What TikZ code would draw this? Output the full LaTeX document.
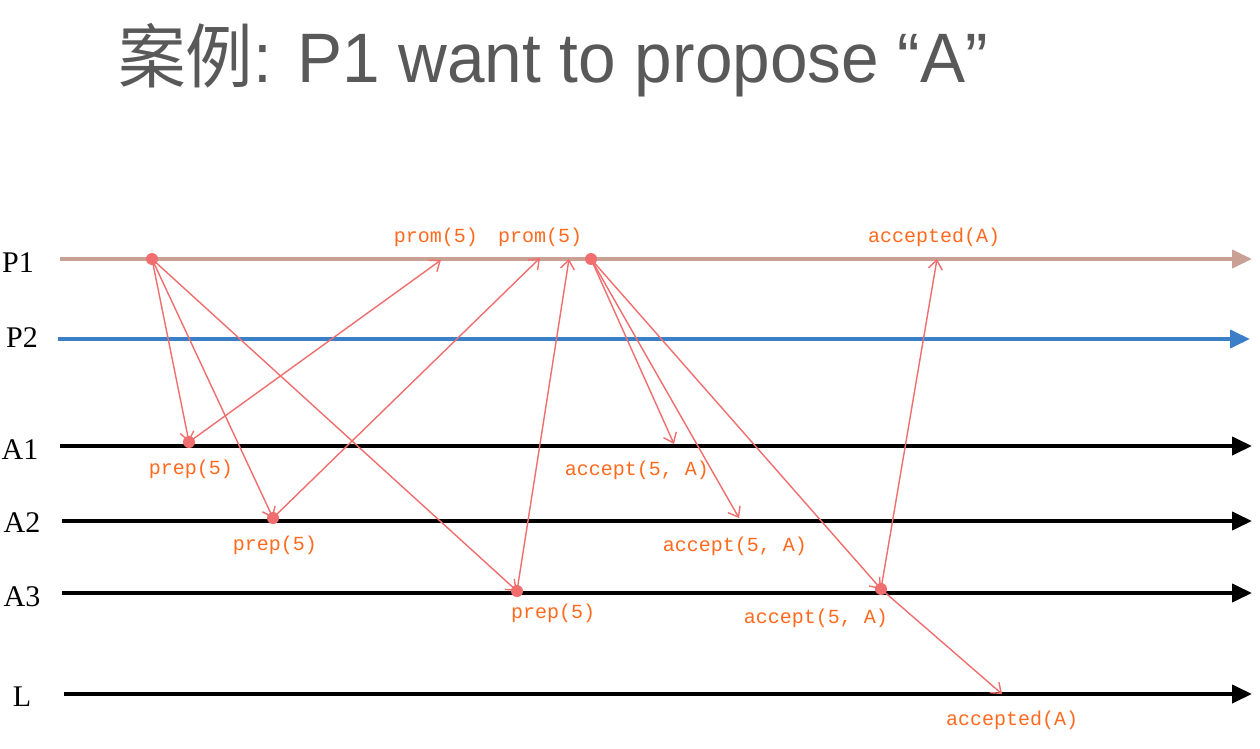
\documentclass[tikz,border=0pt]{standalone}
\usepackage{fontspec}
\setmainfont{Liberation Serif}
\setmonofont{Liberation Mono}
\newfontfamily\titlefont{Liberation Sans}
\newfontfamily\cjkfont{Noto Sans CJK SC}
\usetikzlibrary{arrows.meta}

\definecolor{ponecol}{RGB}{201,160,148}
\definecolor{ptwocol}{RGB}{58,127,200}
\definecolor{msgcol}{RGB}{240,110,110}
\definecolor{lblcol}{RGB}{255,106,30}
\definecolor{titlecol}{RGB}{89,89,89}

\tikzstyle{lane}=[line width=4pt,-{Triangle[length=20pt,width=18pt]}]
\tikzstyle{msg}=[line width=1.4pt,msgcol,-{Straight Barb[length=9pt,width=14pt]}]
\tikzstyle{evt}=[circle,fill=msgcol,inner sep=0pt,minimum size=12pt]
\tikzstyle{lbl}=[text=lblcol,inner sep=0pt,font=\ttfamily\fontsize{20}{20}\selectfont]
\tikzstyle{proc}=[inner sep=0pt,font=\fontsize{30}{30}\selectfont]

\begin{document}
\begin{tikzpicture}[x=1pt,y=-1pt]
	\useasboundingbox[fill=white] (0,0) rectangle (1260,749);

	% title
	\node[anchor=base west,inner sep=0pt,text=titlecol,xscale=0.965,transform shape,
		font=\fontsize{70}{70}\selectfont] (title) at (118,83)
		{{\cjkfont 案例}{\titlefont: P1 want to propose “A”}};

	% lanes
	\def\xS{60}
	\def\xE{1252}
	\coordinate (P1s) at (\xS,259);  \coordinate (P1e) at (\xE,259);
	\coordinate (P2s) at (58,339);   \coordinate (P2e) at (1250,339);
	\coordinate (A1s) at (\xS,446);  \coordinate (A1e) at (\xE,446);
	\coordinate (A2s) at (62,521);   \coordinate (A2e) at (\xE,521);
	\coordinate (A3s) at (62,593);   \coordinate (A3e) at (\xE,593);
	\coordinate (Ls)  at (64,694);   \coordinate (Le)  at (\xE,694);

	\draw[lane, ponecol] (P1s) -- (P1e);
	\draw[lane, ptwocol] (P2s) -- (P2e);
	\draw[lane, black] (A1s) -- (A1e);
	\draw[lane, black] (A2s) -- (A2e);
	\draw[lane, black] (A3s) -- (A3e);
	\draw[lane, black] (Ls) -- (Le);

	\node[proc] (nP1) at (18,263) {P1};
	\node[proc] (nP2) at (22,338) {P2};
	\node[proc] (nA1) at (20,450) {A1};
	\node[proc] (nA2) at (22,523) {A2};
	\node[proc] (nA3) at (22,597) {A3};
	\node[proc] (nL)  at (22,697) {L};

	% events
	\coordinate (propose) at (152,259);
	\coordinate (prepA) at (189,442);
	\coordinate (prepB) at (273,518);
	\coordinate (prepC) at (517,591);
	\coordinate (promA) at (441,260);
	\coordinate (promB) at (540,258);
	\coordinate (promC) at (569,259);
	\coordinate (acc) at (591,259);
	\coordinate (accA) at (674,444);
	\coordinate (accB) at (739,518);
	\coordinate (accC) at (881,589);
	\coordinate (doneP) at (937,259);
	\coordinate (doneL) at (1002,694);

	% phase 1
	\draw[msg] (propose) -- (prepA);
	\draw[msg] (propose) -- (prepB);
	\draw[msg] (propose) -- (prepC);
	\draw[msg] (prepA) -- (promA);
	\draw[msg] (prepB) -- (promB);
	\draw[msg] (prepC) -- (promC);

	% phase 2
	\draw[msg] (acc) -- (accA);
	\draw[msg] (acc) -- (accB);
	\draw[msg] (acc) -- (accC);
	\draw[msg] (accC) -- (doneP);
	\draw[msg] (accC) -- (doneL);

	\foreach \e in {propose,prepA,prepB,prepC,acc,accC}
		\node[evt] at (\e) {};

	% labels
	\node[lbl] (tPromA) at (436,237) {prom(5)};
	\node[lbl] (tPromB) at (540,237) {prom(5)};
	\node[lbl] (tDoneP) at (934,237) {accepted(A)};
	\node[lbl] (tPrepA) at (191,469) {prep(5)};
	\node[lbl] (tPrepB) at (275,545) {prep(5)};
	\node[lbl] (tPrepC) at (553,613) {prep(5)};
	\node[lbl] (tAccA) at (637,470) {accept(5, A)};
	\node[lbl] (tAccB) at (735,546) {accept(5, A)};
	\node[lbl] (tAccC) at (816,618) {accept(5, A)};
	\node[lbl] (tDoneL) at (1012,720) {accepted(A)};
\end{tikzpicture}
\end{document}
